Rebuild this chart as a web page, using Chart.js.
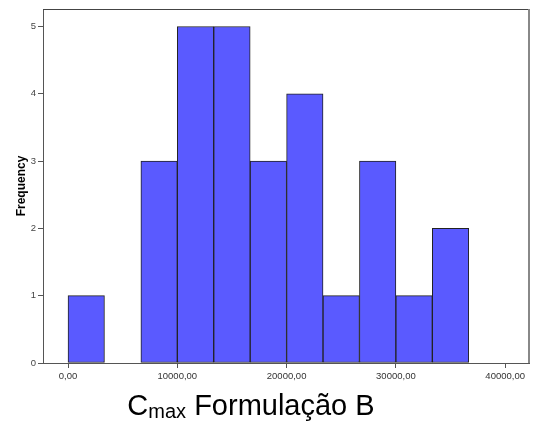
<!DOCTYPE html>
<html>
<head>
<meta charset="utf-8">
<script src="https://cdn.jsdelivr.net/npm/chart.js@4/dist/chart.umd.min.js"></script>
<style>
  html, body { margin: 0; padding: 0; background: #fff; }
  canvas { display: block; }
</style>
</head>
<body>
<canvas id="hist" width="533" height="427"></canvas>
<script>
// Histogram bins (lower edges, width 3333.33) and their frequencies
const binWidth = 10000 / 3;
const binStarts = [0, 3333.33, 6666.67, 10000, 13333.33, 16666.67, 20000, 23333.33, 26666.67, 30000, 33333.33];
const frequencies = [1, 0, 3, 5, 5, 3, 4, 1, 3, 1, 2];
const xTickValues = [0, 10000, 20000, 30000, 40000];
const yTickValues = [0, 1, 2, 3, 4, 5];

const points = binStarts.map((s, i) => ({ x: s + binWidth / 2, y: frequencies[i] }));

const fontFamily = '"Liberation Sans", Arial, sans-serif';

// Frame around the plot area and the axis caption with a subscript
const framePlugin = {
  id: 'frame',
  afterDraw(chart) {
    const { ctx, chartArea: a } = chart;
    ctx.save();
    ctx.strokeStyle = '#444';
    ctx.lineWidth = 1;
    ctx.beginPath();
    ctx.moveTo(a.left, a.top + 0.5);
    ctx.lineTo(a.right, a.top + 0.5);
    ctx.stroke();
    ctx.strokeStyle = '#888';
    ctx.lineWidth = 2;
    ctx.beginPath();
    ctx.moveTo(a.right, a.top);
    ctx.lineTo(a.right, a.bottom);
    ctx.stroke();

    // Caption: C, subscript "max", then the rest
    const big = '29px ' + fontFamily;
    const small = '20px ' + fontFamily;
    const parts = [
      { t: 'C', f: big, dy: 0 },
      { t: 'max', f: small, dy: 2.5 },
      { t: ' Formulação B', f: big, dy: 0 }
    ];
    let total = 0;
    parts.forEach(p => { ctx.font = p.f; p.w = ctx.measureText(p.t).width; total += p.w; });
    let x = 251 - total / 2;
    const baseline = 415;
    ctx.fillStyle = '#000';
    ctx.textBaseline = 'alphabetic';
    ctx.textAlign = 'left';
    parts.forEach(p => {
      ctx.font = p.f;
      ctx.fillText(p.t, x, baseline + p.dy);
      x += p.w;
    });
    ctx.restore();
  }
};

new Chart(document.getElementById('hist'), {
  type: 'bar',
  data: {
    datasets: [{
      data: points,
      backgroundColor: '#5a5aff',
      borderColor: '#222',
      borderWidth: 1,
      borderSkipped: false,
      barPercentage: 1,
      categoryPercentage: 1
    }]
  },
  options: {
    responsive: false,
    animation: false,
    layout: { padding: { top: 9, right: 4, left: 0, bottom: 0 } },
    plugins: {
      legend: { display: false },
      tooltip: { enabled: false }
    },
    scales: {
      x: {
        type: 'linear',
        offset: false,
        min: -2290,
        max: 42180,
        afterFit(scale) { scale.height = 64; },
        afterBuildTicks(scale) { scale.ticks = xTickValues.map(v => ({ value: v })); },
        ticks: {
          font: { family: fontFamily, size: 9.5 },
          color: '#333',
          padding: 3,
          maxRotation: 0,
          callback: v => v.toFixed(2).replace('.', ',')
        },
        grid: { drawOnChartArea: false, offset: false, tickLength: 5, color: '#555' },
        border: { color: '#555', width: 1 }
      },
      y: {
        min: 0,
        max: 5.26,
        afterFit(scale) { scale.width = 43; },
        afterBuildTicks(scale) { scale.ticks = yTickValues.map(v => ({ value: v })); },
        ticks: {
          font: { family: fontFamily, size: 9.5 },
          color: '#444',
          padding: 2
        },
        grid: { drawOnChartArea: false, tickLength: 5, color: '#555' },
        border: { color: '#555', width: 1 },
        title: {
          display: true,
          text: 'Frequency',
          font: { family: fontFamily, size: 12, weight: 'bold' },
          color: '#000',
          padding: { top: 14, bottom: 0 }
        }
      }
    }
  },
  plugins: [framePlugin]
});
</script>
</body>
</html>
